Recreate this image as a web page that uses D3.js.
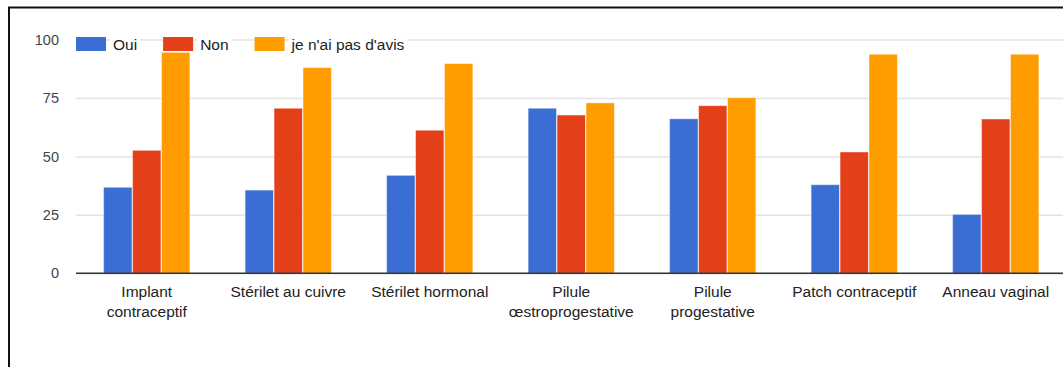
<!DOCTYPE html>
<html>
<head>
<meta charset="utf-8">
<script src="https://cdn.jsdelivr.net/npm/d3@7"></script>
<style>
  html, body { margin: 0; padding: 0; background: #fff; }
  svg { display: block; font-family: "Liberation Sans", Arial, Helvetica, sans-serif; }
</style>
</head>
<body>
<svg id="chart" width="1063" height="367"></svg>
<script>
// Contraceptive methods (x axis)
const categories = [
  "Implant contraceptif",
  "Stérilet au cuivre",
  "Stérilet hormonal",
  "Pilule œstroprogestative",
  "Pilule progestative",
  "Patch contraceptif",
  "Anneau vaginal"
];
// Axis labels, split over lines as displayed
const categoryLabels = [
  ["Implant", "contraceptif"],
  ["Stérilet au cuivre"],
  ["Stérilet hormonal"],
  ["Pilule", "œstroprogestative"],
  ["Pilule", "progestative"],
  ["Patch contraceptif"],
  ["Anneau vaginal"]
];
const seriesNames = ["Oui", "Non", "je n'ai pas d'avis"];
const oui   = [36.8, 35.6, 41.9, 70.6, 66.1, 37.9, 25.2];
const non   = [52.6, 70.6, 61.2, 67.7, 71.7, 51.9, 66.0];
const avis  = [94.5, 88.0, 89.7, 72.9, 75.1, 93.7, 93.7];
const yTicks = [0, 25, 50, 75, 100];
const colors = ["#3a6ed4", "#e33f19", "#ff9d00"];

const series = [oui, non, avis];
const rows = categories.map((c, i) => ({
  category: c,
  values: series.map((s, k) => ({ key: seriesNames[k], k, value: s[i] }))
}));

const svg = d3.select("#chart");
const margin = { left: 76, top: 39.5, bottom: 273.3 };
const plotRight = 1066.5;
const labelFont = "15.5px";

// Outer frame
svg.append("rect")
  .attr("x", 9).attr("y", 7.5)
  .attr("width", 1100).attr("height", 400)
  .attr("fill", "none").attr("stroke", "#111").attr("stroke-width", 2);

const x0 = d3.scaleBand().domain(categories)
  .range([margin.left, plotRight])
  .paddingInner(0.382).paddingOuter(0.191);
const x1 = d3.scaleBand().domain(seriesNames)
  .range([0, x0.bandwidth()]).padding(0.02);
const y = d3.scaleLinear().domain([0, 100]).range([margin.bottom, margin.top]);

// Gridlines and y labels
const yAxis = d3.axisLeft(y).tickValues(yTicks)
  .tickSize(-(plotRight - margin.left)).tickPadding(17);
const gy = svg.append("g").attr("transform", `translate(${margin.left},0)`).call(yAxis);
gy.select(".domain").remove();
gy.selectAll(".tick line").attr("stroke", "#e3e3e3").attr("stroke-width", 1.5);
gy.selectAll(".tick text").attr("fill", "#444").style("font-size", "14.5px")
  .style("font-family", '"Liberation Sans", Arial, sans-serif');

// Bars
const groups = svg.append("g").selectAll("g").data(rows).join("g")
  .attr("transform", d => `translate(${x0(d.category)},0)`);
groups.selectAll("rect").data(d => d.values).join("rect")
  .attr("x", d => x1(d.key))
  .attr("y", d => y(d.value))
  .attr("width", x1.bandwidth())
  .attr("height", d => y(0) - y(d.value))
  .attr("fill", d => colors[d.k])
  .attr("stroke", "#fff").attr("stroke-opacity", 0.45).attr("stroke-width", 1);

// Baseline and category labels
const xAxis = d3.axisBottom(x0).tickSize(0).tickPadding(0);
const gx = svg.append("g").attr("transform", `translate(0,${y(0)})`).call(xAxis);
gx.select(".domain").attr("stroke", "#333").attr("stroke-width", 1.5)
  .attr("d", `M${margin.left},0H${plotRight}`);
gx.selectAll(".tick text").each(function (d, i) {
  const t = d3.select(this).text(null)
    .attr("fill", "#222").style("font-size", labelFont)
    .style("font-family", '"Liberation Sans", Arial, sans-serif')
    .attr("y", 0).attr("dy", null);
  categoryLabels[i].forEach((line, j) => {
    t.append("tspan").attr("x", 0).attr("y", 24 + j * 20).text(line);
  });
});

// Legend
const legend = svg.append("g").attr("transform", "translate(76,37)");
let lx = 0;
seriesNames.forEach((name, k) => {
  const g = legend.append("g").attr("transform", `translate(${lx},0)`);
  const label = g.append("text").attr("x", 37).attr("y", 12.5)
    .attr("fill", "#222").style("font-size", labelFont).text(name);
  const w = label.node().getComputedTextLength();
  g.insert("rect", "text").attr("x", 34).attr("y", 0).attr("width", w + 6).attr("height", 14)
    .attr("fill", "#fff");
  g.append("rect").attr("x", 0).attr("y", 0).attr("width", 30).attr("height", 14)
    .attr("fill", colors[k]);
  lx += 37 + w + 26;
});
</script>
</body>
</html>
